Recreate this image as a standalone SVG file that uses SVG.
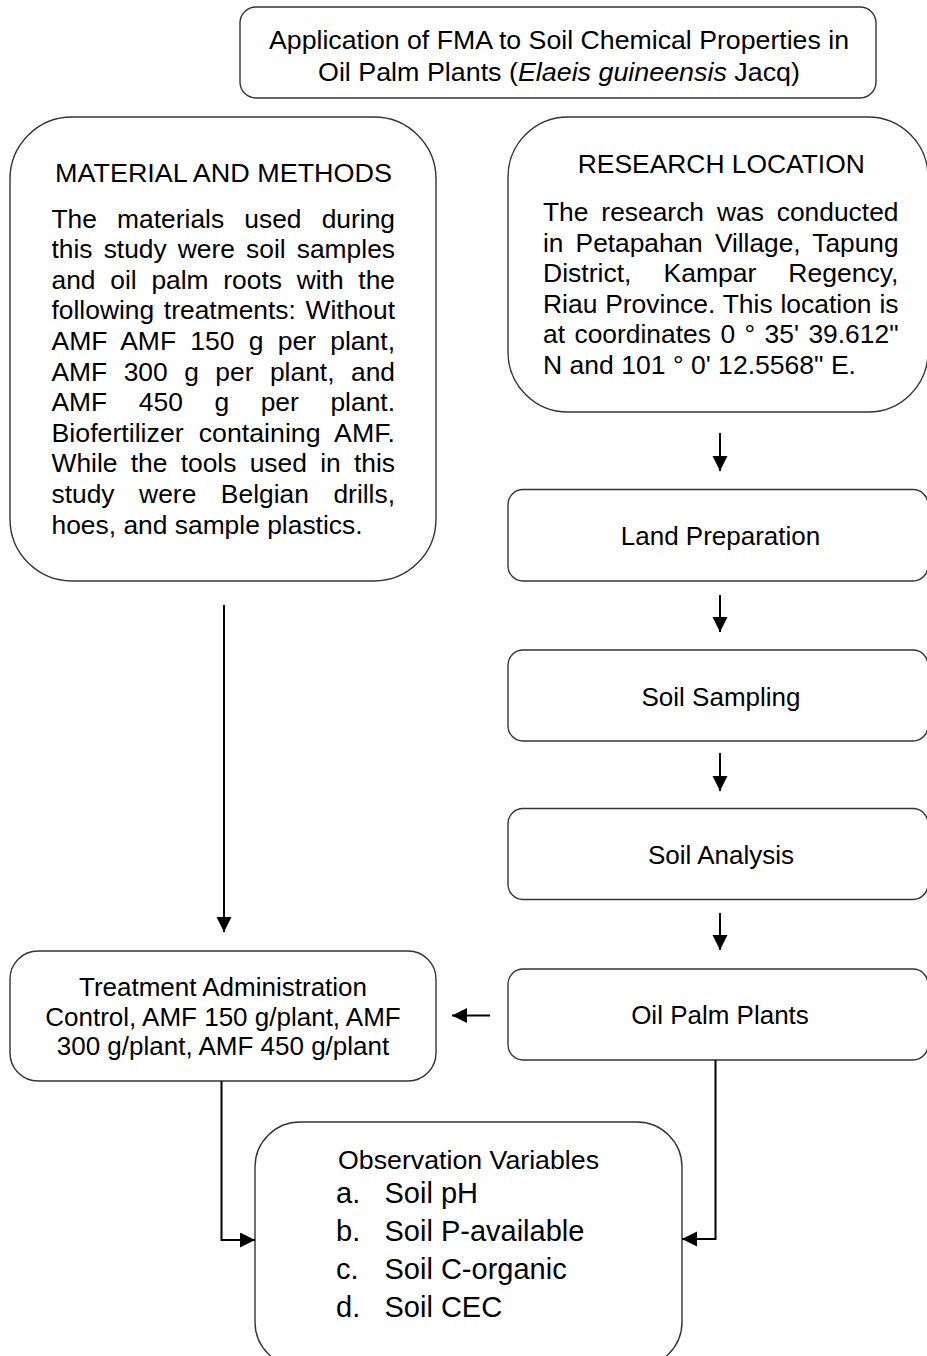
<svg xmlns="http://www.w3.org/2000/svg" width="927" height="1356" viewBox="0 0 927 1356">
<style>
.box{fill:#fff;stroke:#333;stroke-width:1.4}
.t{font-family:"Liberation Sans",Arial,sans-serif;font-size:26px;fill:#000}
.c{text-anchor:middle}
.lst{font-family:"Liberation Sans",Arial,sans-serif;font-size:29px;fill:#000}
.con{fill:none;stroke:#000;stroke-width:2}
</style>
<defs>
<marker id="ah" markerUnits="userSpaceOnUse" markerWidth="16" markerHeight="16" refX="15" refY="7.5" orient="auto">
<path d="M0,0 L15,7.5 L0,15 z" fill="#000"/>
</marker>
</defs>
<rect width="927" height="1356" fill="#fff"/>

<g id="title">
<rect class="box" x="240" y="7" width="636" height="91" rx="16"/>
<text class="t c" x="559" y="49" textLength="580" lengthAdjust="spacingAndGlyphs">Application of FMA to Soil Chemical Properties in</text>
<text class="t c" x="559" y="80.5" textLength="482" lengthAdjust="spacingAndGlyphs">Oil Palm Plants (<tspan font-style="italic">Elaeis guineensis</tspan> Jacq)</text>
</g>

<g id="material-methods">
<rect class="box" x="10" y="117" width="426" height="464" rx="62"/>
<text class="t c" x="223.5" y="181.5" textLength="337" lengthAdjust="spacingAndGlyphs">MATERIAL AND METHODS</text>
<text class="t" x="51.5" y="227.5" word-spacing="12.6" textLength="343.5" lengthAdjust="spacingAndGlyphs">The materials used during</text>
<text class="t" x="51.5" y="258.1" word-spacing="3.7" textLength="343.5" lengthAdjust="spacingAndGlyphs">this study were soil samples</text>
<text class="t" x="51.5" y="288.7" word-spacing="7.3" textLength="343.5" lengthAdjust="spacingAndGlyphs">and oil palm roots with the</text>
<text class="t" x="51.5" y="319.3" word-spacing="2.3" textLength="343.5" lengthAdjust="spacingAndGlyphs">following treatments: Without</text>
<text class="t" x="51.5" y="349.9" word-spacing="6.7" textLength="343.5" lengthAdjust="spacingAndGlyphs">AMF AMF 150 g per plant,</text>
<text class="t" x="51.5" y="380.5" word-spacing="9.0" textLength="343.5" lengthAdjust="spacingAndGlyphs">AMF 300 g per plant, and</text>
<text class="t" x="51.5" y="411.1" word-spacing="23.9" textLength="343.5" lengthAdjust="spacingAndGlyphs">AMF 450 g per plant.</text>
<text class="t" x="51.5" y="441.7" word-spacing="7.4" textLength="343.5" lengthAdjust="spacingAndGlyphs">Biofertilizer containing AMF.</text>
<text class="t" x="51.5" y="472.3" word-spacing="5.8" textLength="343.5" lengthAdjust="spacingAndGlyphs">While the tools used in this</text>
<text class="t" x="51.5" y="502.9" word-spacing="17.0" textLength="343.5" lengthAdjust="spacingAndGlyphs">study were Belgian drills,</text>
<text class="t" x="51.5" y="533.5" textLength="311" lengthAdjust="spacingAndGlyphs">hoes, and sample plastics.</text>
</g>

<g id="research-location">
<rect class="box" x="508" y="117" width="420" height="295" rx="60"/>
<text class="t c" x="721.3" y="173" textLength="287" lengthAdjust="spacingAndGlyphs">RESEARCH LOCATION</text>
<text class="t" x="543" y="221" word-spacing="5.5" textLength="355.5" lengthAdjust="spacingAndGlyphs">The research was conducted</text>
<text class="t" x="543" y="251.5" word-spacing="4.8" textLength="355.5" lengthAdjust="spacingAndGlyphs">in Petapahan Village, Tapung</text>
<text class="t" x="543" y="282" word-spacing="24.1" textLength="355.5" lengthAdjust="spacingAndGlyphs">District, Kampar Regency,</text>
<text class="t" x="543" y="312.5" word-spacing="0.5" textLength="355.5" lengthAdjust="spacingAndGlyphs">Riau Province. This location is</text>
<text class="t" x="543" y="343" word-spacing="2.1" textLength="355.5" lengthAdjust="spacingAndGlyphs">at coordinates 0 ° 35' 39.612"</text>
<text class="t" x="543" y="373.5" textLength="313" lengthAdjust="spacingAndGlyphs">N and 101 ° 0' 12.5568" E.</text>
</g>

<g id="land-preparation">
<rect class="box" x="508" y="489.5" width="420" height="91.5" rx="15"/>
<text class="t c" x="720.5" y="545">Land Preparation</text>
</g>

<g id="soil-sampling">
<rect class="box" x="508" y="650" width="420" height="91" rx="15"/>
<text class="t c" x="721" y="705.5">Soil Sampling</text>
</g>

<g id="soil-analysis">
<rect class="box" x="508" y="808.5" width="420" height="91" rx="15"/>
<text class="t c" x="721" y="863.5">Soil Analysis</text>
</g>

<g id="oil-palm-plants">
<rect class="box" x="508" y="969" width="420" height="91" rx="15"/>
<text class="t c" x="720" y="1024">Oil Palm Plants</text>
</g>

<g id="treatment">
<rect class="box" x="10" y="951" width="426" height="130" rx="28"/>
<text class="t c" x="223" y="996">Treatment Administration</text>
<text class="t c" x="223" y="1025.5">Control, AMF 150 g/plant, AMF</text>
<text class="t c" x="223" y="1055">300 g/plant, AMF 450 g/plant</text>
</g>

<g id="observation">
<rect class="box" x="255" y="1122" width="427" height="245" rx="45"/>
<text class="t" x="338" y="1169" textLength="261" lengthAdjust="spacingAndGlyphs">Observation Variables</text>
<text class="lst" x="336" y="1203">a.</text><text class="lst" x="384.5" y="1203">Soil pH</text>
<text class="lst" x="336" y="1241">b.</text><text class="lst" x="384.5" y="1241">Soil P-available</text>
<text class="lst" x="336" y="1279">c.</text><text class="lst" x="384.5" y="1279">Soil C-organic</text>
<text class="lst" x="336" y="1317">d.</text><text class="lst" x="384.5" y="1317">Soil CEC</text>
</g>

<g id="connectors">
<path class="con" d="M720,433 V471" marker-end="url(#ah)"/>
<path class="con" d="M720,595 V632" marker-end="url(#ah)"/>
<path class="con" d="M720,753 V791" marker-end="url(#ah)"/>
<path class="con" d="M720,913 V950" marker-end="url(#ah)"/>
<path class="con" d="M224,605 V932" marker-end="url(#ah)"/>
<path class="con" d="M490,1015.5 H452" marker-end="url(#ah)"/>
<path class="con" d="M221.5,1081 V1240 H255" marker-end="url(#ah)"/>
<path class="con" d="M715.5,1060 V1239 H682" marker-end="url(#ah)"/>
</g>
</svg>
